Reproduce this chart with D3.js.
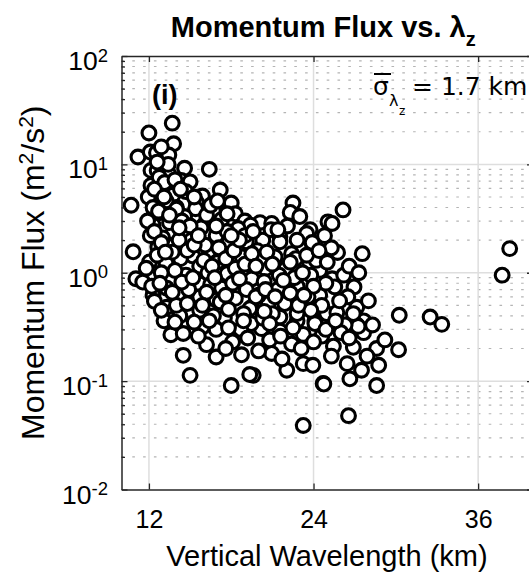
<!DOCTYPE html>
<html><head><meta charset="utf-8">
<script src="https://cdn.jsdelivr.net/npm/d3@7"></script>
<style>body{margin:0;background:#fff}svg{display:block}</style>
</head><body>
<svg id="chart" width="529" height="572"></svg>
<script>
// ---- data ----
const lambdaZ = [
 13.7,12.0,13.8,11.2,12.1,12.55,13.45,12.9,16.4,12.15,12.6,13.45,14.6,14.35,15.0,12.15,13.5,17.2,15.9,12.55,13.75,10.7,12.3,18.0,15.45,14.0,
 12.75,13.15,11.95,13.25,14.7,15.4,12.85,12.25,14.6,16.7,17.3,18.3,19.0,
 22.5,22.3,23.0,26.15,25.05,23.75,20.1,20.95,20.3,21.55,19.4,
 12.3,14.0,16.1,12.3,13.75,18.5,17.7,10.85,12.65,13.85,12.05,13.25,15.2,16.4,17.8,19.1,14.7,15.7,13.6,11.05,11.55,12.3,17.7,19.2,18.4,15.7,16.9,
 25.75,27.55,20.3,21.55,22.95,22.75,24.45,20.5,19.5,20.4,22.8,25.35,25.55,26.95,24.45,21.9,20.7,19.5,27.15,24.95,25.7,24.1,22.8,21.55,27.65,
 20.2,21.55,23.25,24.1,25.45,27.15,27.65,26.9,20.95,22.05,23.25,23.95,19.6,24.7,26.45,27.5,28.75,28.6,26.65,26.55,23.25,
 38.3,37.75,30.25,32.5,33.35,30.2,27.25,24.75,25.35,
 12.4,14.25,15.7,13.6,14.5,16.2,14.5,15.0,16.9,17.5,18.1,18.75,19.35,18.0,19.35,15.9,17.2,18.3,19.45,
 13.0,14.6,15.1,15.8,16.9,17.4,18.8,19.9,14.3,15.7,16.3,17.0,18.3,19.0,20.1,21.2,22.0,21.5,22.6,23.8,24.2,22.4,12.9,13.3,14.1,14.9,16.5,17.3,18.1,19.1,20.0,21.4,22.3,23.6,24.9,26.2,26.5,25.9,26.9,26.3,24.6,23.8,22.8,21.0,20.3,18.9,17.8,16.7,15.3,13.3,14.0,15.6,16.9,18.7,19.2,20.8,22.4,23.1,21.7,24.6,25.3,20.0,17.6,13.1,12.2,12.6,11.8,13.7,16.1,17.7,19.0,20.9,22.1,23.5,24.8,23.9,25.3,22.7,26.6,27.3,28.0,28.3,28.6,29.2,27.9,26.0,12.1,11.9,12.7,13.5,14.4,16.2,15.0,
 12.4,12.9,13.2,13.9,14.2,14.8,15.3,15.6,16.0,16.6,17.1,17.6,18.2,18.6,19.5,19.8,20.6,21.0,21.8,22.3,23.2,23.5,24.0,12.8,13.7,14.4,15.2,16.2,16.8,17.6,18.6,19.8,20.5,21.2,22.9,23.3,12.9,13.9,14.8,15.9,16.4,17.8,18.9,20.8,21.6,22.5,24.0,24.9,25.6,26.6,20.4,13.5,14.2,16.9,18.0,19.6,21.4,22.8,24.4,25.0,13.4,12.6,13.9,14.3,12.4,13.1,15.3,16.5,17.0
];
const flux = [
 24,19.5,15.5,11.7,13,12.8,12.2,14.5,9.0,8.8,8.8,8.1,9.2,7.1,6.9,6.4,6.2,5.8,5.1,5.4,5.2,4.2,4.5,4.4,4.5,4.0,
 7.6,6.8,5.0,4.6,5.6,3.9,3.6,3.2,3.3,3.7,3.1,3.5,3.0,
 4.4,3.6,3.3,3.8,2.95,2.5,2.9,2.85,2.2,2.15,2.75,
 4.0,3.86,2.85,2.75,2.3,2.56,3.5,1.56,1.73,1.8,1.26,1.22,1.43,1.6,1.86,1.93,0.95,0.79,0.85,0.88,0.82,0.62,0.98,0.92,0.67,0.6,0.56,
 1.54,1.5,2.0,1.93,1.73,1.17,1.05,1.09,0.88,0.83,0.75,0.88,0.74,0.74,0.62,0.52,0.52,0.48,0.48,0.42,0.43,0.36,0.36,0.39,0.36,
 0.305,0.29,0.27,0.34,0.21,0.33,0.28,0.205,0.18,0.126,0.145,0.14,0.113,0.095,0.145,0.126,0.14,0.091,0.105,0.048,0.039,
 1.67,0.95,0.405,0.39,0.334,0.195,0.32,0.094,2.85,
 0.545,0.40,0.45,0.268,0.275,0.217,0.173,0.113,0.167,0.383,0.23,0.175,0.115,0.091,0.466,0.316,0.537,0.58,0.34,
 2.1,2.4,2.0,2.6,2.2,1.5,1.4,1.6,1.35,1.15,1.0,1.25,1.1,1.2,1.35,1.4,1.1,0.95,0.9,0.95,1.3,1.5,1.0,0.72,0.62,0.7,0.78,0.72,0.8,0.7,0.62,0.7,0.65,0.6,0.8,0.95,0.6,0.55,0.42,0.33,0.5,0.45,0.42,0.42,0.38,0.42,0.46,0.4,0.35,0.48,0.5,0.26,0.3,0.3,0.25,0.24,0.22,0.2,0.16,0.26,0.17,0.19,0.2,0.36,0.75,1.45,1.1,1.55,1.8,2.4,2.2,2.5,2.7,2.3,2.2,1.9,1.7,1.35,1.15,1.0,0.55,0.33,0.2,0.24,0.17,0.28,2.2,3.0,3.7,2.9,3.0,3.4,2.7,
 2.4,1.9,1.55,1.05,2.0,1.6,1.8,2.2,1.3,1.15,1.7,1.35,1.6,2.0,1.5,1.15,1.55,1.2,0.85,1.25,1.0,1.45,0.75,0.8,0.66,0.82,0.9,0.66,0.9,0.62,0.88,0.6,0.7,0.6,0.5,0.62,0.45,0.35,0.52,0.5,0.36,0.31,0.36,0.34,0.26,0.31,0.23,0.3,0.36,0.25,0.44,3.4,2.6,2.7,2.2,2.4,2.5,2.0,1.6,1.25,10,10.5,7.2,5.9,5.9,5.0,5.0,4.2,4.6
];
const xTickValues = [12, 24, 36];
const yTickExponents = [-2, -1, 0, 1, 2];
const titleMain = "Momentum Flux vs. λ";
const titleSub = "z";
const xLabelText = "Vertical Wavelength (km)";
const panelLabel = "(i)";
const sigmaValueText = "= 1.7 km";

// ---- layout ----
const W = 529, H = 572;
const P = {l: 121.5, r: 533, t: 56, b: 489.5};
const svg = d3.select("#chart");
const x = d3.scaleLinear().domain([10, 40]).range([P.l, P.r]);
const y = d3.scaleLog().domain([1e-2, 1e2]).range([P.b, P.t]);
const majorY = yTickExponents.map(e => Math.pow(10, e));
const minorY = [];
for (let e = -2; e < 2; e++) for (let k = 2; k <= 9; k++) minorY.push(k * Math.pow(10, e));

const AX = "#262626", FONT = "'Liberation Sans', Arial, Helvetica, sans-serif";

svg.append("rect").attr("width", W).attr("height", H).attr("fill", "#fff");

// minor grid (dotted)
svg.append("g").selectAll("line").data(minorY).join("line")
  .attr("x1", P.l).attr("x2", P.r).attr("y1", d => y(d)).attr("y2", d => y(d))
  .attr("stroke", "#b4b4b4").attr("stroke-width", 1.2).attr("stroke-dasharray", "2.6 8.2");
// major grid
const grid = svg.append("g").attr("stroke", "#dedede").attr("stroke-width", 1.5);
grid.selectAll("line.gx").data(xTickValues).join("line").attr("class", "gx")
  .attr("x1", d => x(d)).attr("x2", d => x(d)).attr("y1", P.t).attr("y2", P.b);
grid.selectAll("line.gy").data(majorY.slice(1, -1)).join("line").attr("class", "gy")
  .attr("x1", P.l).attr("x2", P.r).attr("y1", d => y(d)).attr("y2", d => y(d));

// points
const pts = lambdaZ.map((v, i) => [v, flux[i]]);
svg.append("g").selectAll("circle").data(pts).join("circle")
  .attr("cx", d => x(d[0])).attr("cy", d => y(d[1])).attr("r", 6.9)
  .attr("fill", "#fff").attr("stroke", "#000").attr("stroke-width", 3.1);

// axes
function styleAxis(g) {
  g.selectAll("path").attr("stroke", AX).attr("stroke-width", 1.5);
  g.selectAll("line").attr("stroke", AX).attr("stroke-width", 1.3);
}
const gB = svg.append("g").attr("transform", `translate(0,${P.b})`)
  .call(d3.axisBottom(x).tickValues(xTickValues).tickSize(-6).tickSizeOuter(0).tickPadding(21).tickFormat(d3.format("d")));
styleAxis(gB);
gB.selectAll("text").attr("font-family", FONT).attr("font-size", 25).attr("fill", "#000");
const gT = svg.append("g").attr("transform", `translate(0,${P.t})`)
  .call(d3.axisTop(x).tickValues(xTickValues).tickSize(-6).tickSizeOuter(0).tickFormat(""));
styleAxis(gT);
const gL = svg.append("g").attr("transform", `translate(${P.l},0)`)
  .call(d3.axisLeft(y).tickValues(majorY).tickSize(-6).tickSizeOuter(0).tickFormat(""));
styleAxis(gL);
const gLm = svg.append("g").attr("transform", `translate(${P.l},0)`)
  .call(d3.axisLeft(y).tickValues(minorY).tickSize(-3.5).tickSizeOuter(0).tickFormat(""));
styleAxis(gLm); gLm.select("path").remove();
const gR = svg.append("g").attr("transform", `translate(${P.r},0)`)
  .call(d3.axisRight(y).tickValues(majorY).tickSize(-6).tickSizeOuter(0).tickFormat(""));
styleAxis(gR);

// y tick labels 10^e
const yl = svg.append("g").attr("font-family", FONT).attr("fill", "#000");
yTickExponents.forEach(e => {
  const t = yl.append("text").attr("x", 108).attr("y", y(Math.pow(10, e)) + 14)
    .attr("text-anchor", "end").attr("font-size", 26.5);
  t.append("tspan").text("10");
  t.append("tspan").attr("dy", -8.5).attr("font-size", 18.5).text(String(e));
});

// title
const tt = svg.append("text").attr("x", (P.l + P.r) / 2 - 4).attr("y", 37)
  .attr("text-anchor", "middle").attr("font-family", FONT).attr("font-weight", "bold")
  .attr("font-size", 29).attr("fill", "#000");
tt.append("tspan").text(titleMain);
tt.append("tspan").attr("dy", 9).attr("font-size", 20).text(titleSub);

// x label
svg.append("text").attr("x", 327).attr("y", 566).attr("text-anchor", "middle")
  .attr("font-family", FONT).attr("font-size", 29).attr("fill", "#000").text(xLabelText);

// y label
const ylab = svg.append("text").attr("transform", `translate(44,${(P.t + P.b) / 2}) rotate(-90)`)
  .attr("text-anchor", "middle").attr("font-family", FONT).attr("font-size", 32).attr("fill", "#000");
ylab.append("tspan").text("Momentum Flux (m");
ylab.append("tspan").attr("dy", -11).attr("font-size", 21).text("2");
ylab.append("tspan").attr("dy", 11).text("/s");
ylab.append("tspan").attr("dy", -11).attr("font-size", 21).text("2");
ylab.append("tspan").attr("dy", 11).text(")");

// panel label
svg.append("text").attr("x", 152).attr("y", 104).attr("font-family", FONT)
  .attr("font-weight", "bold").attr("font-size", 27).attr("fill", "#000").text(panelLabel);

// sigma annotation
const SF = "'DejaVu Sans', sans-serif";
svg.append("text").attr("x", 373).attr("y", 95).attr("font-family", SF).attr("font-size", 25).attr("fill", "#000").text("σ");
svg.append("line").attr("x1", 374).attr("x2", 391).attr("y1", 74).attr("y2", 74).attr("stroke", "#000").attr("stroke-width", 2);
svg.append("text").attr("x", 389).attr("y", 106).attr("font-family", SF).attr("font-size", 16).attr("fill", "#000").text("λ");
svg.append("text").attr("x", 399).attr("y", 115).attr("font-family", SF).attr("font-size", 12).attr("fill", "#000").text("z");
svg.append("text").attr("x", 412).attr("y", 95).attr("font-family", SF).attr("font-size", 25).attr("fill", "#000").text(sigmaValueText);
</script>
</body></html>
